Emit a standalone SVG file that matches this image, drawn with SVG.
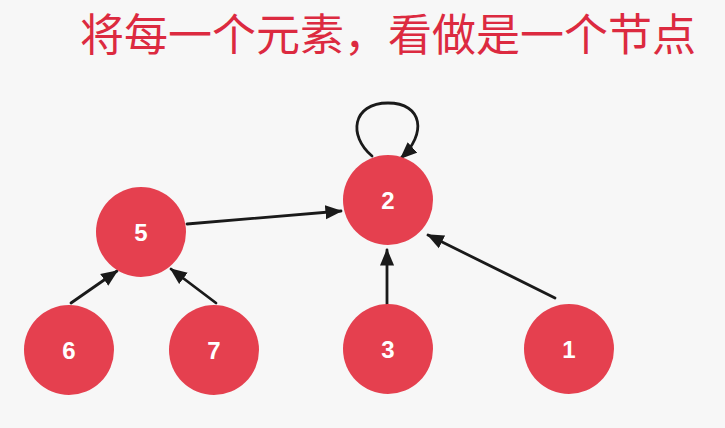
<svg xmlns="http://www.w3.org/2000/svg" width="725" height="428" viewBox="0 0 725 428">
<style>
.node circle{fill:#e5404f;}
.node text{fill:#ffffff;font-family:"Liberation Sans",Arial,sans-serif;font-weight:bold;font-size:24px;text-anchor:middle;}
.edge{stroke:#1a1a1a;stroke-width:2.8;fill:none;stroke-linecap:round;marker-end:url(#arrow);}
.title{fill:#dc2a40;font-family:"Noto Sans CJK SC","Noto Sans",sans-serif;font-size:44px;}
</style>
<defs>
<marker id="arrow" viewBox="0 0 12 10" markerWidth="17" markerHeight="15" refX="11" refY="5" orient="auto" markerUnits="userSpaceOnUse">
<path d="M0,0 L12,5 L0,10 z" fill="#1a1a1a"/>
</marker>
</defs>
<rect width="725" height="428" fill="#f7f7f7"/>
<text class="title" x="80" y="51">将每一个元素，看做是一个节点</text>
<g id="connectors">
<path class="edge" d="M187,224 L341,211"/>
<path class="edge" d="M71,303 L117,271"/>
<path class="edge" d="M216,303 L171,269"/>
<path class="edge" d="M387,304 L387,250"/>
<path class="edge" d="M555,298 L428,235"/>
<path class="edge" d="M372,156 C348,136 352,103 388,103 C423,103 427,134 401,158"/>
</g>
<g id="node-2" class="node"><circle cx="388" cy="200" r="45"/><text x="388" y="209">2</text></g>
<g id="node-5" class="node"><circle cx="141" cy="232" r="45"/><text x="141" y="241">5</text></g>
<g id="node-6" class="node"><circle cx="69" cy="350" r="45"/><text x="69" y="359">6</text></g>
<g id="node-7" class="node"><circle cx="214" cy="350" r="45"/><text x="214" y="359">7</text></g>
<g id="node-3" class="node"><circle cx="388" cy="349" r="45"/><text x="388" y="358">3</text></g>
<g id="node-1" class="node"><circle cx="569" cy="349" r="45"/><text x="569" y="358">1</text></g>
</svg>
